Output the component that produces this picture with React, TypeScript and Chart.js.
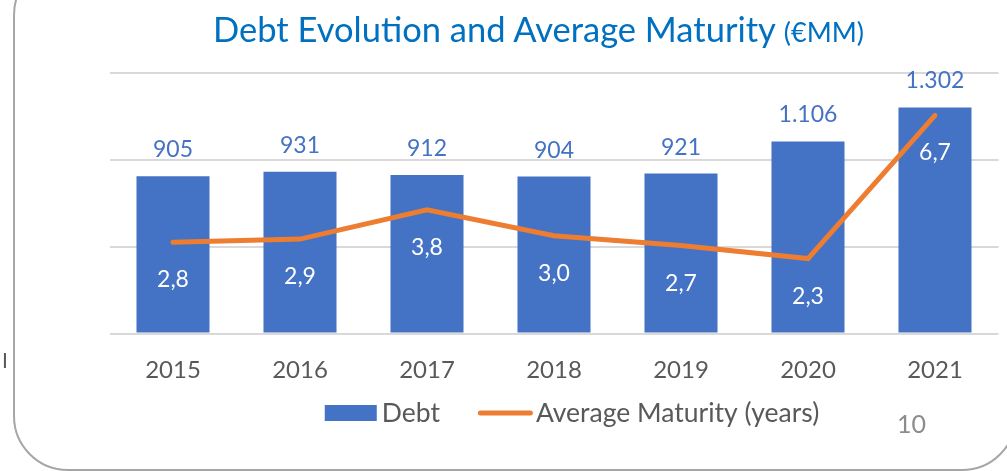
import React, { useEffect, useRef } from "react";
import { Chart, registerables } from "chart.js";

Chart.register(...registerables);

const categories = ["2015", "2016", "2017", "2018", "2019", "2020", "2021"];
const debtValues = [905, 931, 912, 904, 921, 1106, 1302];
const maturityValues = [2.8, 2.9, 3.8, 3.0, 2.7, 2.3, 6.7];
const debtAxisMax = 1500;
const debtAxisStep = 500;
const maturityAxisMax = 8;

const BLUE = "#4472C4";
const ORANGE = "#ED7D31";
const GRAY_TEXT = "#595959";
const FONT = "Lato";

const fmtDebt = (v: number) => String(v).replace(/\B(?=(\d{3})+(?!\d))/g, ".");
const fmtMat = (v: number) => v.toFixed(1).replace(".", ",");

const valueLabels = {
  id: "valueLabels",
  afterDatasetsDraw(chart: any) {
    const ctx = chart.ctx;
    const barMeta = chart.getDatasetMeta(0);
    const lineMeta = chart.getDatasetMeta(1);
    ctx.save();
    ctx.font = `23px ${FONT}`;
    ctx.textAlign = "center";
    ctx.textBaseline = "alphabetic";
    ctx.fillStyle = BLUE;
    barMeta.data.forEach((el: any, i: number) => {
      ctx.fillText(fmtDebt(debtValues[i]), el.x, el.y - 27 + 8);
    });
    ctx.fillStyle = "#FFFFFF";
    lineMeta.data.forEach((el: any, i: number) => {
      ctx.fillText(fmtMat(maturityValues[i]), el.x, el.y + 37 + 8);
    });
    ctx.restore();
  },
};

const customLegend = {
  id: "customLegend",
  afterDraw(chart: any) {
    const ctx = chart.ctx;
    const ds = chart.data.datasets;
    ctx.save();
    ctx.font = `26.5px ${FONT}`;
    ctx.textBaseline = "alphabetic";
    const boxW = 52;
    const lineW = 55;
    const w1 = ctx.measureText(ds[0].label).width;
    const w2 = ctx.measureText(ds[1].label).width;
    const total = boxW + 5 + w1 + 38 + lineW + 3 + w2;
    const centerX = 572;
    const cy = 413;
    let x = centerX - total / 2;
    ctx.fillStyle = ds[0].backgroundColor;
    ctx.fillRect(x, cy - 8, boxW, 16);
    x += boxW + 5;
    ctx.fillStyle = GRAY_TEXT;
    ctx.fillText(ds[0].label, x, cy + 9);
    x += w1 + 38;
    ctx.strokeStyle = ds[1].borderColor;
    ctx.lineWidth = 5;
    ctx.lineCap = "round";
    ctx.beginPath();
    ctx.moveTo(x + 2.5, cy);
    ctx.lineTo(x + lineW - 2.5, cy);
    ctx.stroke();
    x += lineW + 3;
    ctx.fillText(ds[1].label, x, cy + 9);
    ctx.restore();
  },
};

export default function App() {
  const canvasRef = useRef<HTMLCanvasElement | null>(null);

  useEffect(() => {
    const canvas = canvasRef.current;
    if (!canvas) return;
    const chart = new Chart(canvas, {
      type: "bar",
      data: {
        labels: categories,
        datasets: [
          {
            type: "bar",
            label: "Debt",
            data: debtValues,
            backgroundColor: BLUE,
            yAxisID: "y",
            order: 1,
            barPercentage: 0.575,
            categoryPercentage: 1,
          },
          {
            type: "line",
            label: "Average Maturity (years)",
            data: maturityValues,
            borderColor: ORANGE,
            backgroundColor: ORANGE,
            borderWidth: 5,
            pointRadius: 0,
            tension: 0,
            borderCapStyle: "round",
            yAxisID: "y2",
            order: 0,
          },
        ],
      } as any,
      options: {
        responsive: false,
        animation: false,
        layout: { padding: { left: 109.5, right: 8.5, top: 73, bottom: 72.7 } },
        plugins: {
          legend: { display: false },
          title: { display: false },
          tooltip: { enabled: false },
        },
        scales: {
          x: {
            grid: { display: false },
            border: { display: false },
            ticks: { color: GRAY_TEXT, font: { family: FONT, size: 24 }, padding: 14, maxRotation: 0 },
          },
          y: {
            min: 0,
            max: debtAxisMax,
            ticks: { stepSize: debtAxisStep, display: false },
            grid: { color: "#d9d9d9", lineWidth: 2, drawTicks: false },
            border: { display: false },
          },
          y2: {
            position: "right",
            min: 0,
            max: maturityAxisMax,
            display: false,
          },
        },
      } as any,
      plugins: [valueLabels, customLegend],
    });
    return () => chart.destroy();
  }, []);

  return (
    <div
      style={{
        position: "fixed",
        left: 0,
        top: 0,
        width: 1007,
        height: 471,
        overflow: "hidden",
        background: "#fff",
        fontFamily: FONT,
      }}
    >
      <div
        style={{
          position: "absolute",
          left: 13,
          top: -40,
          width: 1004,
          height: 511,
          boxSizing: "border-box",
          border: "2px solid #a6a6a6",
          borderRadius: 55,
        }}
      />
      <canvas
        ref={canvasRef}
        width={1007}
        height={471}
        style={{ position: "absolute", left: 0, top: 0, width: 1007, height: 471 }}
      />
      <div
        style={{
          position: "absolute",
          left: 213,
          top: 8,
          whiteSpace: "nowrap",
          color: "#0070C0",
          fontSize: 34.5,
          lineHeight: "42px",
        }}
      >
        Debt Evolution and Average Maturity <span style={{ fontSize: 27 }}>(€MM)</span>
      </div>
      <div
        style={{
          position: "absolute",
          left: 897,
          top: 408,
          color: "#8c8c8c",
          fontSize: 25,
          lineHeight: "30px",
        }}
      >
        10
      </div>
      <div
        style={{
          position: "absolute",
          left: 2,
          top: 348,
          color: GRAY_TEXT,
          fontSize: 21,
          lineHeight: "24px",
        }}
      >
        I
      </div>
    </div>
  );
}
